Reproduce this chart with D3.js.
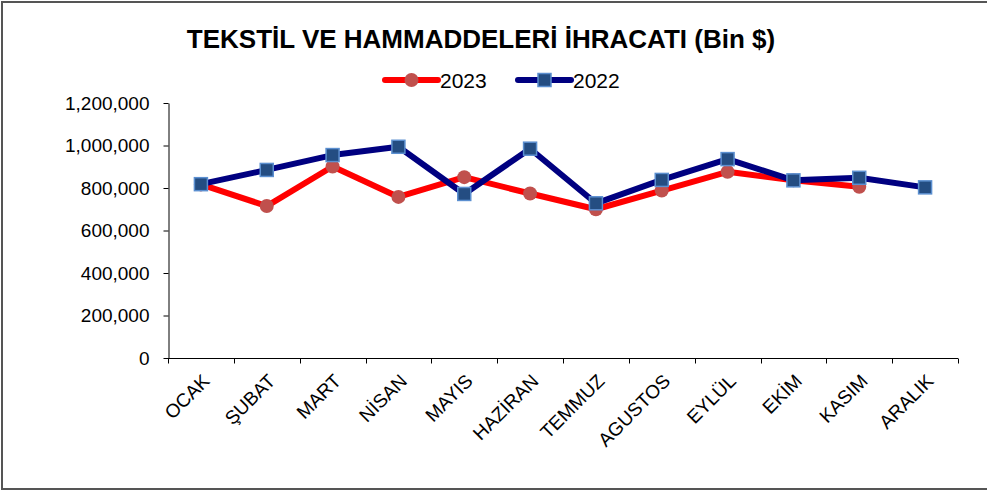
<!DOCTYPE html>
<html>
<head>
<meta charset="utf-8">
<script src="https://cdn.jsdelivr.net/npm/d3@7"></script>
<style>
  body { margin: 0; background: #fff; }
  text { font-family: Arial, "Liberation Sans", sans-serif; }
</style>
</head>
<body>
<script>
const months = ["OCAK", "ŞUBAT", "MART", "NİSAN", "MAYIS", "HAZİRAN", "TEMMUZ", "AGUSTOS", "EYLÜL", "EKİM", "KASIM", "ARALIK"];
const values2023 = [817000, 715000, 901000, 758000, 851000, 774000, 700000, 788000, 876000, 836000, 806000, null];
const values2022 = [818000, 885000, 955000, 994000, 772000, 985000, 728000, 838000, 936000, 836000, 848000, 803000];
const yTicks = [0, 200000, 400000, 600000, 800000, 1000000, 1200000];

const width = 987, height = 493;
const svg = d3.select("body").append("svg")
  .attr("width", width)
  .attr("height", height);

// chart frame (right edge runs off the picture)
svg.append("path")
  .attr("d", "M995,2H2V489H995")
  .attr("fill", "none")
  .attr("stroke", "#555")
  .attr("stroke-width", 2);

const x = d3.scaleBand().domain(months).range([168, 958]);
const y = d3.scaleLinear().domain([0, 1200000]).range([358, 103]);
const cx = m => x(m) + x.bandwidth() / 2;

// y axis
const yAxis = svg.append("g")
  .attr("transform", "translate(168.5,0)")
  .call(d3.axisLeft(y).tickValues(yTicks).tickFormat(d3.format(",")).tickSize(5).tickPadding(14).tickSizeOuter(0));
yAxis.selectAll("text").attr("font-size", 19).attr("fill", "#000").attr("font-family", "Arial, 'Liberation Sans', sans-serif");
yAxis.selectAll("line, path").attr("stroke", "#000");

// x axis with ticks between categories
const xAxis = svg.append("g").attr("transform", "translate(0,358.5)");
xAxis.append("line").attr("x1", 168).attr("x2", 958).attr("stroke", "#000");
xAxis.selectAll(".tk").data(months.concat(["end"])).enter().append("line")
  .attr("x1", (d, i) => i < months.length ? Math.round(x(d)) + 0.5 : 958.5)
  .attr("x2", (d, i) => i < months.length ? Math.round(x(d)) + 0.5 : 958.5)
  .attr("y1", 0).attr("y2", 5).attr("stroke", "#000");
xAxis.selectAll(".lbl").data(months).enter().append("text")
  .attr("transform", d => `translate(${cx(d) + 5},${19}) rotate(-45)`)
  .attr("text-anchor", "end")
  .attr("dy", "0.35em")
  .attr("font-size", 19)
  .text(d => d);

const series = [
  { name: "2023", values: values2023, line: "#ff0000", marker: "circle" },
  { name: "2022", values: values2022, line: "#000080", marker: "square" }
];

const lineGen = d3.line()
  .defined(d => d.v != null)
  .x(d => cx(d.m))
  .y(d => y(d.v));

function drawMarker(g, type, px, py) {
  if (type === "circle") {
    g.append("circle").attr("cx", px).attr("cy", py).attr("r", 7)
      .attr("fill", "#c0504d");
  } else {
    g.append("rect").attr("x", px - 6.5).attr("y", py - 6.5).attr("width", 13).attr("height", 13)
      .attr("fill", "#244d82").attr("stroke", "#5b8fd0").attr("stroke-width", 1.5);
  }
}

series.forEach(s => {
  const pts = months.map((m, i) => ({ m: m, v: s.values[i] }));
  const g = svg.append("g");
  g.append("path").datum(pts)
    .attr("d", lineGen)
    .attr("fill", "none")
    .attr("stroke", s.line)
    .attr("stroke-width", 6)
    .attr("stroke-linejoin", "round");
  pts.filter(p => p.v != null).forEach(p => drawMarker(g, s.marker, cx(p.m), y(p.v)));
});

// title
svg.append("text")
  .attr("x", 481).attr("y", 48)
  .attr("text-anchor", "middle")
  .attr("font-size", 26)
  .attr("font-weight", "bold")
  .text("TEKSTİL VE HAMMADDELERİ İHRACATI (Bin $)");

// legend
const legendX = [385, 518];
series.forEach((s, i) => {
  const g = svg.append("g").attr("transform", `translate(${legendX[i]},80)`);
  g.append("line").attr("x1", 0).attr("x2", 53).attr("y1", 0).attr("y2", 0)
    .attr("stroke", s.line).attr("stroke-width", 6).attr("stroke-linecap", "round");
  drawMarker(g, s.marker, 26.5, 0);
  g.append("text").attr("x", 55).attr("y", 7.5).attr("font-size", 21).text(s.name);
});
</script>
</body>
</html>
